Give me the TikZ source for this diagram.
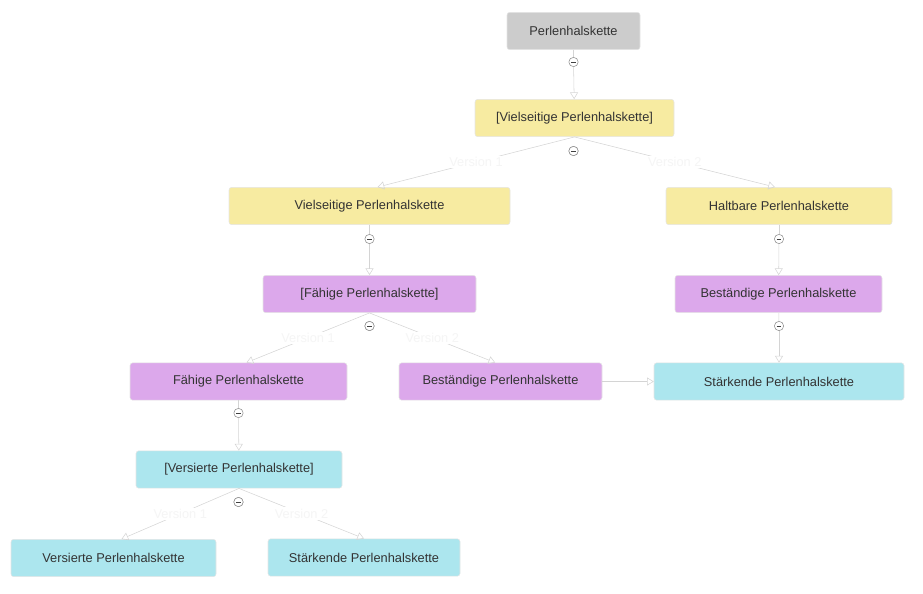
\documentclass[tikz,border=0pt]{standalone}
\usepackage{fontspec}
\setmainfont{Liberation Sans}
\usetikzlibrary{arrows.meta}
\definecolor{nodegray}{RGB}{204,204,204}
\definecolor{nodeyellow}{RGB}{247,235,161}
\definecolor{nodepurple}{RGB}{220,168,235}
\definecolor{nodecyan}{RGB}{172,230,238}
\definecolor{textdark}{RGB}{51,51,51}
\definecolor{edgegray}{RGB}{212,212,212}

\begin{document}
\begin{tikzpicture}[x=0.75pt, y=-0.75pt,
    box/.style={draw=black!10, rounded corners=2pt, minimum height=28pt, inner sep=2pt,
                text=textdark, font=\fontsize{9.6}{11}\selectfont},
    w/.style={minimum width=#1*0.75pt},
    toggle/.style={circle, draw=black!45, fill=white, minimum size=7pt, inner sep=0pt,
                   path picture={\draw[black!75, line width=0.6pt]
                     ([xshift=-1.7pt]path picture bounding box.center) --
                     ([xshift=1.7pt]path picture bounding box.center);}},
    link/.style={draw=edgegray, -{Triangle[open,length=5pt,width=6pt]}},
    ver/.style={fill=white, text=black!4, inner sep=1pt, font=\fontsize{9.6}{11}\selectfont}]
    \useasboundingbox (0,0) rectangle (923,593);
    % level 0
    \node[box, w=133, fill=nodegray] (root) at (573.5,31) {Perlenhalskette};
    % level 1
    \node[box, w=199, fill=nodeyellow] (vpsel) at (574.5,118) {[Vielseitige Perlenhalskette]};
    % level 2
    \node[box, w=281, fill=nodeyellow] (vp) at (369.5,206) {Vielseitige Perlenhalskette};
    \node[box, w=226, fill=nodeyellow] (hp) at (779,206) {Haltbare Perlenhalskette};
    % level 3
    \node[box, w=213, fill=nodepurple] (fpsel) at (369.5,294) {[Fähige Perlenhalskette]};
    \node[box, w=207, fill=nodepurple] (bpr) at (778.5,294) {Beständige Perlenhalskette};
    % level 4
    \node[box, w=217, fill=nodepurple] (fp) at (238.5,381.5) {Fähige Perlenhalskette};
    \node[box, w=203, fill=nodepurple] (bpm) at (500.5,381.5) {Beständige Perlenhalskette};
    \node[box, w=250, fill=nodecyan] (spr) at (779,381.5) {Stärkende Perlenhalskette};
    % level 5
    \node[box, w=206, fill=nodecyan] (vesel) at (239,469.5) {[Versierte Perlenhalskette]};
    % level 6
    \node[box, w=205, fill=nodecyan] (ve) at (113.5,558) {Versierte Perlenhalskette};
    \node[box, w=192, fill=nodecyan] (spb) at (364,557.5) {Stärkende Perlenhalskette};
    % collapse toggles
    \node[toggle] (t0) at (573.5,62) {};
    \node[toggle] (t1) at (573.5,151) {};
    \node[toggle] (t2) at (369.5,239) {};
    \node[toggle] (t3) at (779,239) {};
    \node[toggle] (t4) at (369.5,326) {};
    \node[toggle] (t5) at (779,326) {};
    \node[toggle] (t6) at (238.5,413) {};
    \node[toggle] (t7) at (238.5,502) {};
    % single edges
    \draw[edgegray] (root) -- (t0);
    \draw[link] (t0) -- (vpsel);
    \draw[edgegray] (vp) -- (t2);
    \draw[link] (t2) -- (fpsel);
    \draw[edgegray] (hp) -- (t3);
    \draw[link] (t3) -- (bpr);
    \draw[edgegray] (bpr) -- (t5);
    \draw[link] (t5) -- (spr);
    \draw[edgegray] (fp) -- (t6);
    \draw[link] (t6) -- (vesel);
    \draw[link] (bpm) -- (spr);
    % version edges
    \draw[link] (vpsel.south) -- node[ver] {Version 1} ([xshift=6pt]vp.north);
    \draw[link] (vpsel.south) -- node[ver] {Version 2} ([xshift=-3pt]hp.north);
    \draw[link] (fpsel.south) -- node[ver] {Version 1} ([xshift=6pt]fp.north);
    \draw[link] (fpsel.south) -- node[ver] {Version 2} ([xshift=-4pt]bpm.north);
    \draw[link] (vesel.south) -- node[ver] {Version 1} ([xshift=6pt]ve.north);
    \draw[link] (vesel.south) -- node[ver] {Version 2} (spb.north);
    % split toggles on top
    \node[toggle] at (t1) {};
    \node[toggle] at (t4) {};
    \node[toggle] at (t7) {};
\end{tikzpicture}
\end{document}
